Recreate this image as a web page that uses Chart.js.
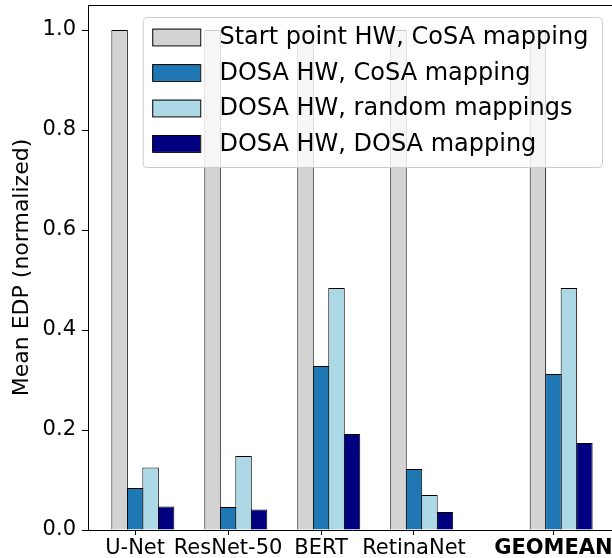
<!DOCTYPE html>
<html>
<head>
<meta charset="utf-8">
<script src="https://cdn.jsdelivr.net/npm/chart.js@4.4.1/dist/chart.umd.min.js"></script>
<style>
  html, body { margin: 0; padding: 0; background: #fff; overflow: hidden; width: 612px; height: 558px; }
  #wrap { width: 620px; height: 558px; }
</style>
</head>
<body>
<div id="wrap"><canvas id="edpChart" width="620" height="558"></canvas></div>
<script>
// Data
const categories = ['U-Net', 'ResNet-50', 'BERT', 'RetinaNet', 'GEOMEAN'];
const startHwCosa = [1.0, 1.0, 1.0, 1.0, 1.0];
const dosaHwCosa = [0.084, 0.046, 0.328, 0.122, 0.312];
const dosaHwRandom = [0.125, 0.148, 0.484, 0.070, 0.484];
const dosaHwDosa = [0.047, 0.041, 0.192, 0.036, 0.174];
const seriesLabels = [
  'Start point HW, CoSA mapping',
  'DOSA HW, CoSA mapping',
  'DOSA HW, random mappings',
  'DOSA HW, DOSA mapping'
];
const yTicks = [0.0, 0.2, 0.4, 0.6, 0.8, 1.0];

document.addEventListener('DOMContentLoaded', function() {
  Chart.defaults.font.family = 'DejaVu Sans';
  Chart.defaults.font.size = 21;
  Chart.defaults.color = '#000';

  // the summary group sits a half step further right
  const last = categories.length - 1;
  const xPos = categories.map((c, i) => i === last ? i + 0.5 : i);
  const barShift = 1 / 12; // tick sits under the 2nd bar of each group

  function points(values) {
    return values.map((v, i) => ({ x: xPos[i], y: v }));
  }

  const colors = ['#d3d3d3', '#1f77b4', '#add8e6', '#000080'];
  const series = [startHwCosa, dosaHwCosa, dosaHwRandom, dosaHwDosa];

  const datasets = series.map((vals, k) => ({
    label: seriesLabels[k],
    data: points(vals),
    backgroundColor: colors[k],
    borderColor: '#000',
    borderWidth: 1,
    categoryPercentage: 2 / 3,
    barPercentage: 1.065 // slight overlap so neighbours share one edge
  }));

  // frame + overlay legend, matplotlib style
  const framePlugin = {
    id: 'frameLegend',
    afterDatasetsDraw(chart) {
      const ctx = chart.ctx;
      const a = chart.chartArea;
      ctx.save();
      ctx.strokeStyle = '#000';
      ctx.lineWidth = 1;
      ctx.beginPath();
      ctx.moveTo(a.left, a.top + 0.5);
      ctx.lineTo(a.right, a.top + 0.5);
      ctx.stroke();

      // legend box
      const em = 24;
      ctx.font = em + 'px "DejaVu Sans"';
      let textW = 0;
      chart.data.datasets.forEach(ds => {
        textW = Math.max(textW, ctx.measureText(ds.label).width);
      });
      const handleW = 2 * em, handleH = 0.7 * em;
      const pad = 0.4 * em, textPad = 0.8 * em;
      const rowH = 35.5;
      const boxW = pad + handleW + textPad + textW + pad + 4;
      const boxH = chart.data.datasets.length * rowH + 8;
      const right = a.right - 0.5 * em - 2;
      const top = a.top + 0.5 * em;
      const left = right - boxW;

      ctx.beginPath();
      ctx.roundRect(left + 0.5, top + 0.5, boxW, boxH, 4);
      ctx.fillStyle = 'rgba(255,255,255,0.8)';
      ctx.fill();
      ctx.strokeStyle = '#cccccc';
      ctx.stroke();

      ctx.textBaseline = 'middle';
      ctx.textAlign = 'left';
      chart.data.datasets.forEach((ds, i) => {
        const cy = top + 20 + i * rowH;
        const hx = left + pad;
        ctx.fillStyle = ds.backgroundColor;
        ctx.fillRect(hx, cy - handleH / 2, handleW, handleH);
        ctx.strokeStyle = '#000';
        ctx.strokeRect(hx + 0.5, cy - handleH / 2 + 0.5, handleW, handleH);
        ctx.fillStyle = '#000';
        ctx.fillText(ds.label, hx + handleW + textPad, cy + 1);
      });
      ctx.restore();
    }
  };

  const ctx = document.getElementById('edpChart').getContext('2d');
  new Chart(ctx, {
    type: 'bar',
    data: { datasets: datasets },
    plugins: [framePlugin],
    options: {
      responsive: false,
      animation: false,
      layout: { padding: { top: 5, right: 4, left: 0, bottom: 0 } },
      plugins: {
        legend: { display: false },
        tooltip: { enabled: false }
      },
      scales: {
        x: {
          type: 'linear',
          offset: false,
          min: -0.59,
          max: 5.09,
          afterBuildTicks(scale) {
            scale.ticks = xPos.map(p => ({ value: p - barShift }));
          },
          afterFit(scale) {
            scale.height = 28;
            scale.paddingLeft = 0;
            scale.paddingRight = 0;
          },
          grid: {
            offset: false,
            drawOnChartArea: false,
            drawTicks: true,
            tickLength: 5,
            color: '#000'
          },
          border: { color: '#000', width: 1 },
          ticks: {
            padding: 1,
            maxRotation: 0,
            autoSkip: false,
            callback: (value, index) => categories[index],
            font: (c) => ({
              family: 'DejaVu Sans',
              size: 21,
              weight: c.index === last ? 'bold' : 'normal'
            })
          }
        },
        y: {
          min: 0,
          max: 1.05,
          afterBuildTicks(scale) {
            scale.ticks = yTicks.map(v => ({ value: v }));
          },
          afterFit(scale) {
            scale.width = 88;
            scale.paddingTop = 0;
            scale.paddingBottom = 0;
          },
          grid: {
            drawOnChartArea: false,
            drawTicks: true,
            tickLength: 6,
            color: '#000'
          },
          border: { color: '#000', width: 1 },
          ticks: {
            padding: 6,
            callback: (value) => Number(value).toFixed(1)
          },
          title: {
            display: true,
            text: 'Mean EDP (normalized)',
            padding: { top: 9, bottom: 0 },
            font: { size: 22 }
          }
        }
      }
    }
  });
});
</script>
</body>
</html>
